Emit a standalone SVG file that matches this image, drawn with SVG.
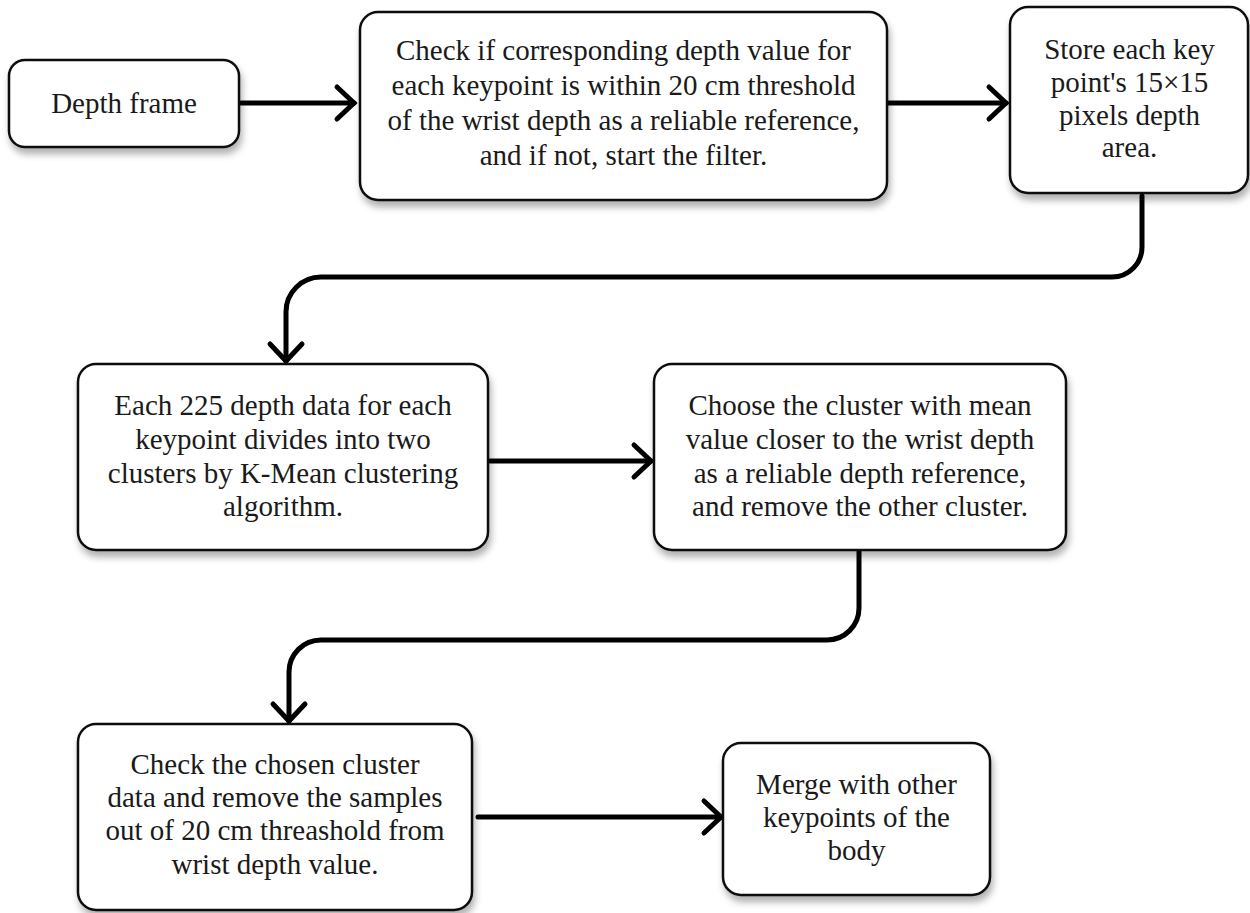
<svg xmlns="http://www.w3.org/2000/svg" width="1250" height="913" viewBox="0 0 1250 913">
<style>
.box{fill:#fff;stroke:#111;stroke-width:2.5;filter:url(#sh)}
.t{font-family:"Liberation Serif","Times New Roman",serif;font-size:29px;fill:#1a1a1a;text-anchor:middle}
.c{fill:none;stroke:#000;stroke-width:5;stroke-linecap:round;stroke-linejoin:round;marker-end:url(#arr)}
</style>
<defs>
<filter id="sh" x="-10%" y="-10%" width="125%" height="130%">
<feDropShadow dx="2" dy="6" stdDeviation="3.5" flood-color="#000" flood-opacity="0.3"/>
</filter>
<marker id="arr" markerUnits="userSpaceOnUse" markerWidth="40" markerHeight="44" viewBox="-24 -22 30 44" refX="0" refY="0" orient="auto" overflow="visible">
<path d="M-17,-16 L0,0 L-17,16" fill="none" stroke="#000" stroke-width="5" stroke-linecap="round" stroke-linejoin="miter"/>
</marker>
</defs>
<rect width="1250" height="913" fill="#fff"/>
<g id="connectors">
<path class="c" d="M241,103 H354"/>
<path class="c" d="M887,103 H1006"/>
<path class="c" d="M1142,196 V247 A30,30 0 0 1 1112,277 H321 A35,35 0 0 0 286,312 V361"/>
<path class="c" d="M490,461 H651"/>
<path class="c" d="M859,552 V608 A32,32 0 0 1 827,640 H321 A32,32 0 0 0 289,672 V721"/>
<path class="c" d="M478,817 H721"/>
</g>
<g id="n1">
<rect class="box" x="9" y="60" width="230" height="87" rx="16"/>
<text class="t" x="124" y="113">Depth frame</text>
</g>
<g id="n2">
<rect class="box" x="360" y="12" width="527" height="188" rx="18"/>
<text class="t" x="623.5" y="60">Check if corresponding depth value for</text>
<text class="t" x="623.5" y="95">each keypoint is within 20 cm threshold</text>
<text class="t" x="623.5" y="130">of the wrist depth as a reliable reference,</text>
<text class="t" x="623.5" y="165">and if not, start the filter.</text>
</g>
<g id="n3">
<rect class="box" x="1010" y="7" width="238" height="186" rx="18"/>
<text class="t" x="1129.5" y="59">Store each key</text>
<text class="t" x="1129.5" y="92">point's 15×15</text>
<text class="t" x="1129.5" y="125">pixels depth</text>
<text class="t" x="1129.5" y="157">area.</text>
</g>
<g id="n4">
<rect class="box" x="78" y="364" width="410" height="186" rx="18"/>
<text class="t" x="283" y="415">Each 225 depth data for each</text>
<text class="t" x="283" y="449">keypoint divides into two</text>
<text class="t" x="283" y="483">clusters by K-Mean clustering</text>
<text class="t" x="283" y="516">algorithm.</text>
</g>
<g id="n5">
<rect class="box" x="654" y="364" width="412" height="186" rx="18"/>
<text class="t" x="860" y="415">Choose the cluster with mean</text>
<text class="t" x="860" y="449">value closer to the wrist depth</text>
<text class="t" x="860" y="483">as a reliable depth reference,</text>
<text class="t" x="860" y="516">and remove the other cluster.</text>
</g>
<g id="n6">
<rect class="box" x="78" y="724" width="394" height="186" rx="18"/>
<text class="t" x="275" y="773.5">Check the chosen cluster</text>
<text class="t" x="275" y="806.5">data and remove the samples</text>
<text class="t" x="275" y="839.5">out of 20 cm threashold from</text>
<text class="t" x="275" y="873.5">wrist depth value.</text>
</g>
<g id="n7">
<rect class="box" x="723" y="743" width="267" height="152" rx="18"/>
<text class="t" x="856.5" y="793.5">Merge with other</text>
<text class="t" x="856.5" y="826.5">keypoints of the</text>
<text class="t" x="856.5" y="859.5">body</text>
</g>
</svg>
